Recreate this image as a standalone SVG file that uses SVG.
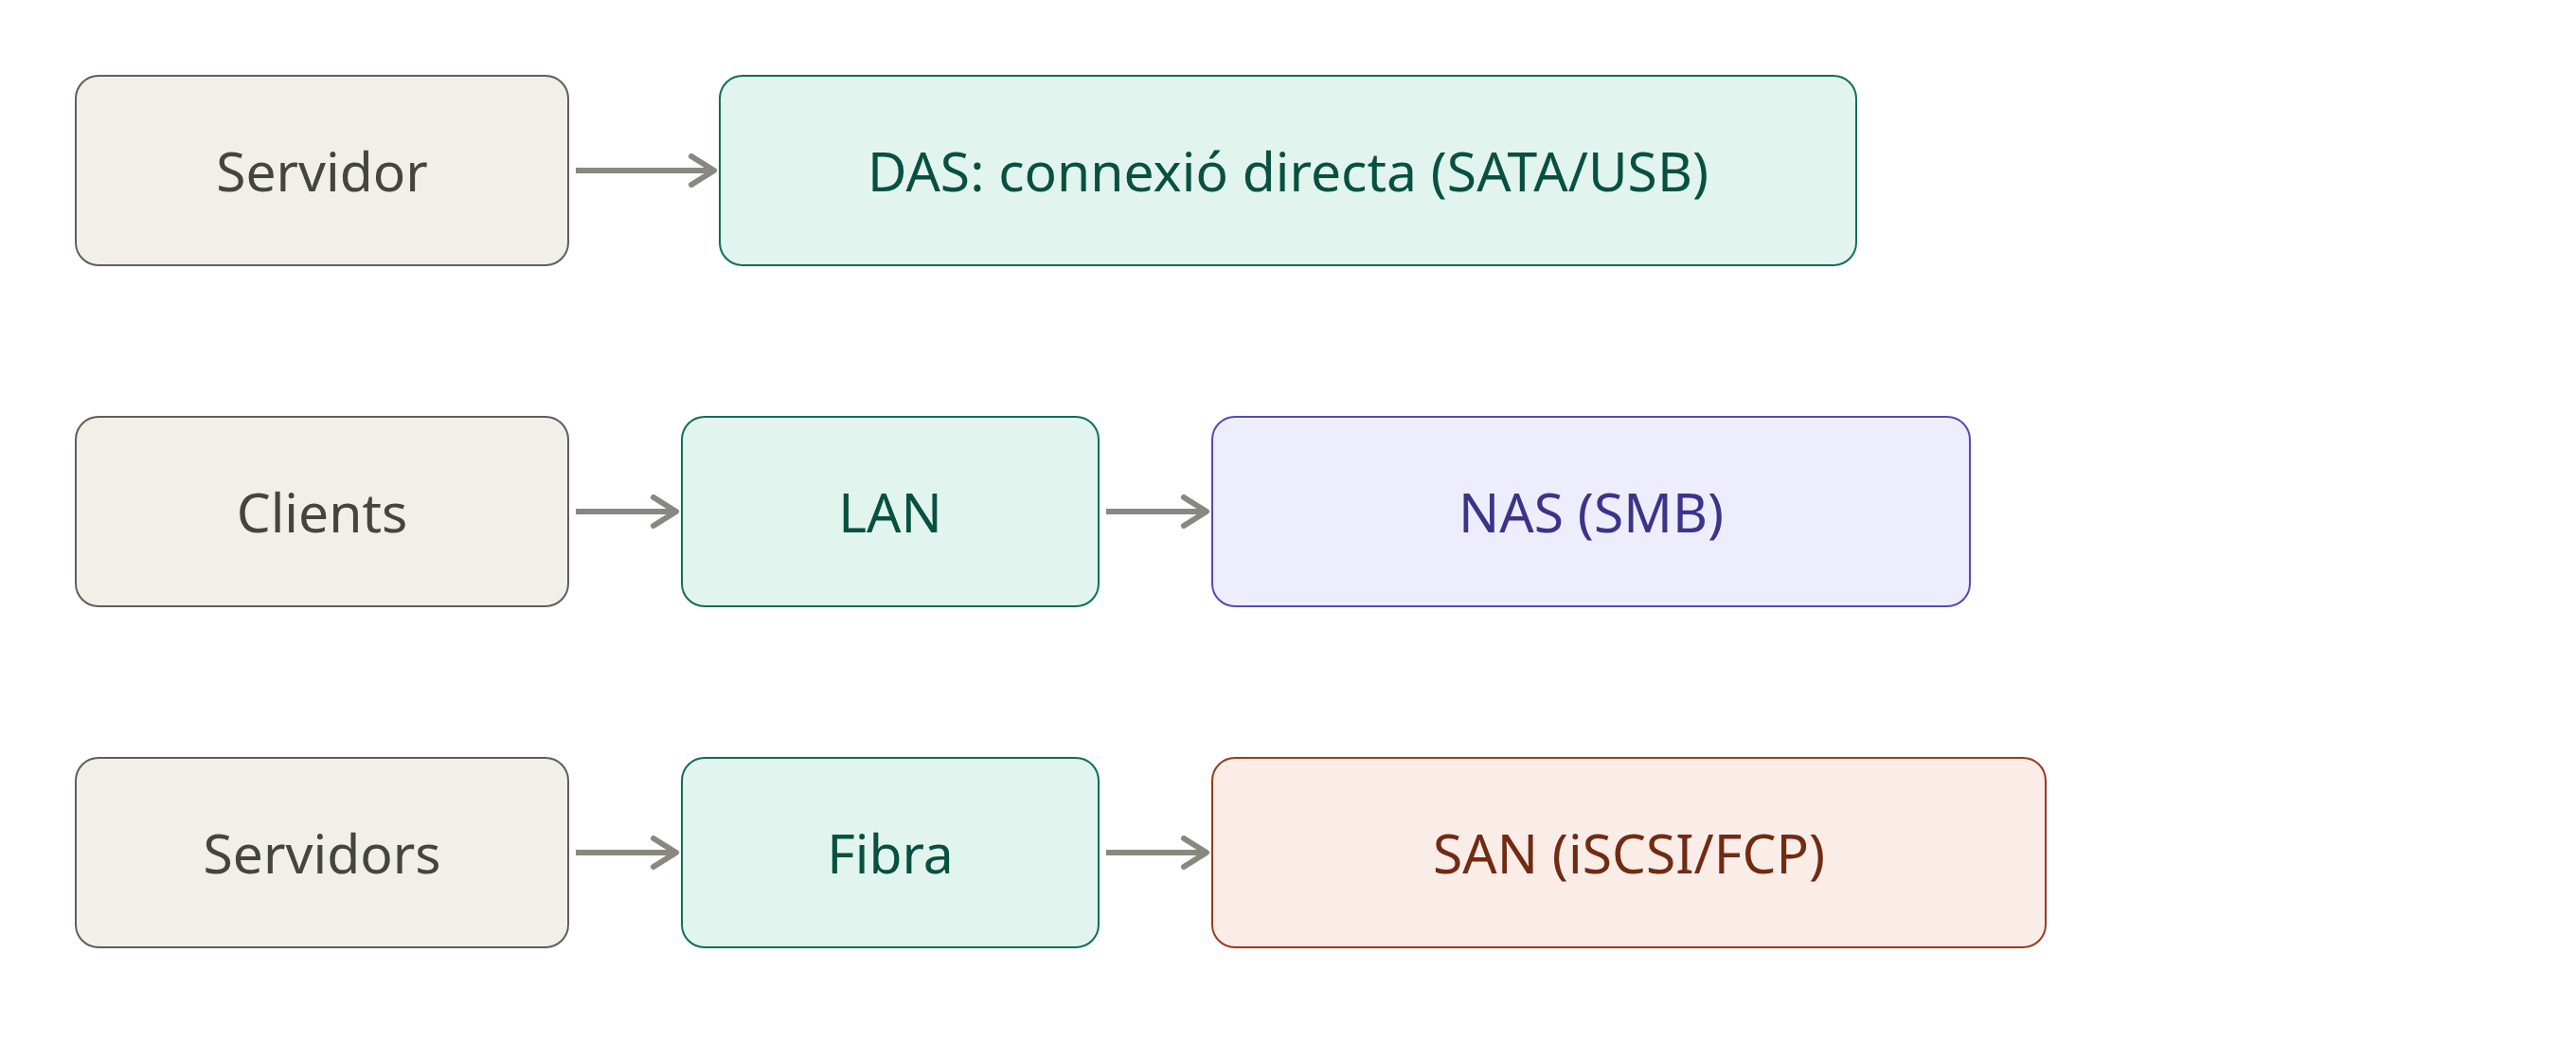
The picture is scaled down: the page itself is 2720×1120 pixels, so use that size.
<svg xmlns="http://www.w3.org/2000/svg" width="2720" height="1120" viewBox="0 0 2720 1120">
<defs>
<style>
.n rect{stroke-width:2}
.n text{font-family:"Noto Sans","Open Sans","DejaVu Sans",sans-serif;font-size:57px;text-anchor:middle;dominant-baseline:central}
.gray rect{fill:#F1EFE8;stroke:#5F5E5A}
.gray text{fill:#444441}
.green rect{fill:#E1F5EE;stroke:#0F6E56}
.green text{fill:#085041}
.purple rect{fill:#EEEDFE;stroke:#534AB7}
.purple text{fill:#3C3489}
.coral rect{fill:#FAECE7;stroke:#993C1D}
.coral text{fill:#712B13}
.edge{stroke:#888780;stroke-width:6;fill:none;marker-end:url(#arr)}
</style>
<marker id="arr" markerUnits="userSpaceOnUse" viewBox="0 0 32 36" refX="28" refY="18" markerWidth="32" markerHeight="36" orient="auto">
<path d="M4,3 L28,18 L4,33" fill="none" stroke="#888780" stroke-width="6" stroke-linecap="round" stroke-linejoin="round"/>
</marker>
</defs>
<rect width="2720" height="1120" fill="#ffffff"/>
<g id="servidor" class="n gray"><rect x="80" y="80" width="520" height="200" rx="24"/><text x="340" y="180">Servidor</text></g>
<g id="das" class="n green"><rect x="760" y="80" width="1200" height="200" rx="24"/><text x="1360" y="180">DAS: connexió directa (SATA/USB)</text></g>
<g id="clients" class="n gray"><rect x="80" y="440" width="520" height="200" rx="24"/><text x="340" y="540">Clients</text></g>
<g id="lan" class="n green"><rect x="720" y="440" width="440" height="200" rx="24"/><text x="940" y="540">LAN</text></g>
<g id="nas" class="n purple"><rect x="1280" y="440" width="800" height="200" rx="24"/><text x="1680" y="540">NAS (SMB)</text></g>
<g id="servidors" class="n gray"><rect x="80" y="800" width="520" height="200" rx="24"/><text x="340" y="900">Servidors</text></g>
<g id="fibra" class="n green"><rect x="720" y="800" width="440" height="200" rx="24"/><text x="940" y="900">Fibra</text></g>
<g id="san" class="n coral"><rect x="1280" y="800" width="880" height="200" rx="24"/><text x="1720" y="900">SAN (iSCSI/FCP)</text></g>
<g id="connectors">
<line class="edge" x1="608" y1="180" x2="754" y2="180"/>
<line class="edge" x1="608" y1="540" x2="714" y2="540"/>
<line class="edge" x1="1168" y1="540" x2="1274" y2="540"/>
<line class="edge" x1="608" y1="900" x2="714" y2="900"/>
<line class="edge" x1="1168" y1="900" x2="1274" y2="900"/>
</g>
</svg>
